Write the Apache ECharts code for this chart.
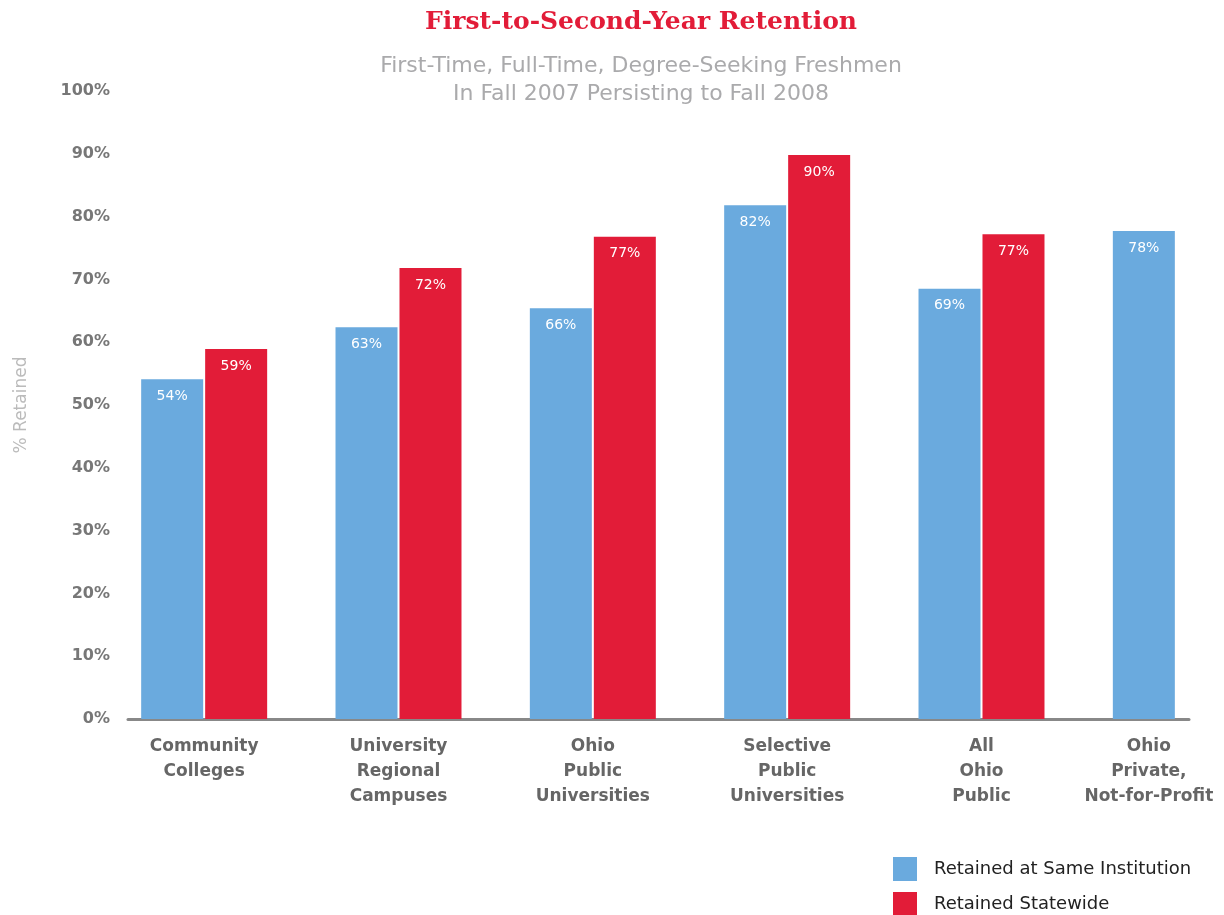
<!DOCTYPE html>
<html>
<head>
<meta charset="utf-8">
<script src="https://cdn.jsdelivr.net/npm/echarts@6/dist/echarts.min.js"></script>
<style>html,body{margin:0;padding:0;background:#fff;}#c{width:1224px;height:915px;}</style>
</head>
<body>
<div id="c"></div>
<script>
var categories = ["Community\nColleges", "University\nRegional\nCampuses", "Ohio\nPublic\nUniversities", "Selective\nPublic\nUniversities", "All\nOhio\nPublic", "Ohio\nPrivate,\nNot-for-Profit"];
var sameInstitution = [54.1, 62.4, 65.4, 81.8, 68.5, 77.7];
var statewide = [58.9, 71.8, 76.8, 89.8, 77.2, null];
var sameLabels = ["54%", "63%", "66%", "82%", "69%", "78%"];
var stateLabels = ["59%", "72%", "77%", "90%", "77%", ""];
var yTicks = [0, 10, 20, 30, 40, 50, 60, 70, 80, 90, 100];

var BLUE = "#6aaade", RED = "#e21c38";
var FONT = "DejaVu Sans";
var chart = echarts.init(document.getElementById('c'));
var lastIdx = categories.length - 1;
chart.setOption({
  animation: false,
  backgroundColor: '#fff',
  title: [
    { text: 'First-to-Second-Year Retention', left: 636, top: 5, textAlign: 'center',
      textStyle: { fontFamily: 'DejaVu Serif', fontWeight: 'bold', fontSize: 25, color: RED } },
    { text: 'First-Time, Full-Time, Degree-Seeking Freshmen\nIn Fall 2007 Persisting to Fall 2008', left: 636, top: 47, textAlign: 'center',
      textStyle: { fontFamily: FONT, fontWeight: 'normal', fontSize: 22, lineHeight: 28, color: '#aaaaac' } }
  ],
  legend: [
    { orient: 'vertical', left: 893, top: 857, padding: 0, itemWidth: 24, itemHeight: 24,
      icon: 'rect',
      textStyle: { fontFamily: FONT, fontSize: 18, color: '#222', padding: [0, 0, 0, 12] },
      data: ['Retained at Same Institution'] },
    { orient: 'vertical', left: 893, top: 892, padding: 0, itemWidth: 24, itemHeight: 24,
      icon: 'rect',
      textStyle: { fontFamily: FONT, fontSize: 18, color: '#222', padding: [0, 0, 0, 12] },
      data: ['Retained Statewide'] }
  ],
  grid: [
    { left: 107, width: 1166, top: 91, bottom: 196, outerBoundsMode: 'none', containLabel: false },
    { left: 128, right: 35, top: 91, bottom: 196, outerBoundsMode: 'none', containLabel: false }
  ],
  xAxis: [
    { type: 'category', gridIndex: 0, data: categories,
      axisLine: { show: false }, axisTick: { show: false },
      axisLabel: { interval: 0, margin: 15, fontFamily: FONT, fontWeight: 'bold', fontSize: 17, lineHeight: 25, color: '#666',
        formatter: function (v, i) {
          if (i === lastIdx) return v.split('\n').map(function (s) { return '{r|' + s + '}'; }).join('\n');
          return v;
        },
        rich: { r: { fontFamily: FONT, fontWeight: 'bold', fontSize: 17, lineHeight: 25, color: '#666', padding: [0, 54, 0, 0] } }
      } },
    { type: 'category', gridIndex: 1, data: categories,
      axisLine: { show: true, lineStyle: { color: '#888', width: 3 } }, axisTick: { show: false },
      axisLabel: { show: false } }
  ],
  yAxis: [
    { type: 'value', gridIndex: 0, min: 0, max: 100, interval: 10, show: false, splitLine: { show: false } },
    { type: 'value', gridIndex: 1, min: 0, max: 100, interval: 10,
      name: '% Retained', nameLocation: 'middle', nameGap: 98, nameRotate: 90,
      nameTextStyle: { fontFamily: FONT, fontSize: 17, color: '#bbb' },
      axisLine: { show: false }, axisTick: { show: false }, splitLine: { show: false },
      axisLabel: { margin: 18, fontFamily: FONT, fontWeight: 'bold', fontSize: 16, color: '#777',
        formatter: function (v) { return yTicks.indexOf(v) >= 0 ? v + '%' : ''; } } }
  ],
  series: [
    { name: 'Retained at Same Institution', type: 'bar', xAxisIndex: 0, yAxisIndex: 0,
      data: sameInstitution, barWidth: 62, barGap: '3.2%', itemStyle: { color: BLUE },
      label: { show: true, position: 'insideTop', distance: 10, color: '#fff', fontFamily: FONT, fontSize: 14,
        formatter: function (p) { return sameLabels[p.dataIndex]; } } },
    { name: 'Retained Statewide', type: 'bar', xAxisIndex: 0, yAxisIndex: 0,
      data: statewide, barWidth: 62, barGap: '3.2%', itemStyle: { color: RED },
      label: { show: true, position: 'insideTop', distance: 10, color: '#fff', fontFamily: FONT, fontSize: 14,
        formatter: function (p) { return stateLabels[p.dataIndex]; } } }
  ]
});
</script>
</body>
</html>
